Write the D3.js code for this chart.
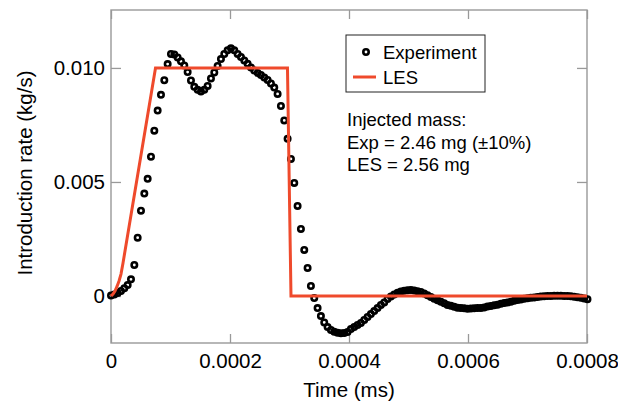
<!DOCTYPE html>
<html>
<head>
<meta charset="utf-8">
<script src="https://cdn.jsdelivr.net/npm/d3@7"></script>
<style>
  html, body { margin: 0; padding: 0; background: #fff; }
  svg { display: block; font-family: "Liberation Sans", Arial, Helvetica, sans-serif; }
</style>
</head>
<body>
<svg id="chart" width="618" height="402"></svg>
<script>
// Measured introduction rate (kg/s), sampled every 5.6e-6 ms from t = 0
const sampleInterval = 0.0000056;
const expRate = [
  0.00002, 0.00007, 0.00013, 0.00022, 0.00034, 0.00048, 0.00073, 0.00136, 0.00256, 0.00374,
  0.00449, 0.00514, 0.00611, 0.00725, 0.00813, 0.00882, 0.00946, 0.01017, 0.01061, 0.01059,
  0.01046, 0.01029, 0.01011, 0.00982, 0.00945, 0.00917, 0.00904, 0.00897, 0.00904, 0.00921,
  0.00954, 0.00980, 0.01009, 0.01039, 0.01061, 0.01077, 0.01086, 0.01077, 0.01061, 0.01048,
  0.01033, 0.01018, 0.01002, 0.00989, 0.00978, 0.00969, 0.00958, 0.00947, 0.00932, 0.00914,
  0.00886, 0.00833, 0.00770, 0.00689, 0.00601, 0.00496, 0.00395, 0.00294, 0.00202, 0.00123,
  0.00044, -0.00009, -0.00053, -0.00088, -0.00116, -0.00136, -0.00149, -0.00157, -0.00161, -0.00163,
  -0.00162, -0.00158, -0.00145, -0.00136, -0.00127, -0.00118, -0.00105, -0.00092, -0.00079, -0.00066,
  -0.00053, -0.00039, -0.00028, -0.00013, -0.00002, 0.00007, 0.00014, 0.00020, 0.00023, 0.00025,
  0.00026, 0.00024, 0.00021, 0.00018, 0.00011, 0.00003, -0.00004, -0.00012, -0.00019, -0.00025,
  -0.00032, -0.00039, -0.00043, -0.00047, -0.00051, -0.00053, -0.00054, -0.00056, -0.00055, -0.00054,
  -0.00053, -0.00052, -0.00050, -0.00046, -0.00044, -0.00041, -0.00038, -0.00034, -0.00031, -0.00028,
  -0.00025, -0.00021, -0.00018, -0.00015, -0.00012, -0.00010, -0.00008, -0.00006, -0.00004, -0.00002,
  -0.00001, 0.00000, 0.00000, 0.00001, 0.00001, 0.00001, 0.00000, 0.00000, -0.00001, -0.00003,
  -0.00005, -0.00008, -0.00011, -0.00014
];

// LES injection profile: ramp-up, plateau, sharp closure
const lesTime = [0, 0.0000034, 0.0000067, 0.0000101, 0.0000135, 0.0000168, 0.0000202, 0.0000748, 0.0002966, 0.0003025, 0.0008];
const lesRate = [0, 0.00009, 0.00022, 0.00042, 0.00066, 0.00096, 0.00145, 0.0100, 0.0100, 0, 0];

// Axis ticks
const xTicks = [0, 0.0002, 0.0004, 0.0006, 0.0008];
const xTickLabels = ["0", "0.0002", "0.0004", "0.0006", "0.0008"];
const yTicks = [0, 0.005, 0.010];
const yTickLabels = ["0", "0.005", "0.010"];

const seriesNames = ["Experiment", "LES"];
const notes = ["Injected mass:", "Exp = 2.46 mg (\u00b110%)", "LES = 2.56 mg"];

const expData = expRate.map((v, i) => ({ t: i * sampleInterval, v }));
const lesData = lesTime.map((t, i) => ({ t, v: lesRate[i] }));

const svg = d3.select("#chart");
const plot = { left: 111, right: 587, top: 10, bottom: 343 };
const red = "#ef4a2c";
const frameColor = "#999";
const markerR = 2.7;
const markerStroke = 2.6;

const x = d3.scaleLinear().domain([0, 0.0008]).range([plot.left, plot.right]);
const y = d3.scaleLinear().domain([-0.00206, 0.01254]).range([plot.bottom, plot.top]);

// Axes (ticks point inward, mirrored on top and right)
function styleAxis(g) {
  g.select(".domain").remove();
  g.selectAll(".tick line").attr("stroke", frameColor).attr("stroke-width", 1.3);
  g.selectAll(".tick text").attr("fill", "#000").attr("font-size", 20.5)
    .attr("font-family", "Liberation Sans, Arial, sans-serif");
}

svg.append("g")
  .attr("transform", `translate(0,${plot.bottom})`)
  .call(d3.axisBottom(x).tickValues(xTicks).tickSize(-9).tickPadding(10)
    .tickFormat((d, i) => xTickLabels[i]))
  .call(styleAxis);

svg.append("g")
  .attr("transform", `translate(0,${plot.top})`)
  .call(d3.axisTop(x).tickValues(xTicks).tickSize(-9).tickFormat(""))
  .call(styleAxis);

svg.append("g")
  .attr("transform", `translate(${plot.left},0)`)
  .call(d3.axisLeft(y).tickValues(yTicks).tickSize(-10).tickPadding(6)
    .tickFormat((d, i) => yTickLabels[i]))
  .call(styleAxis);

svg.append("g")
  .attr("transform", `translate(${plot.right},0)`)
  .call(d3.axisRight(y).tickValues(yTicks).tickSize(-10).tickFormat(""))
  .call(styleAxis);

// Frame
svg.append("rect")
  .attr("x", plot.left).attr("y", plot.top)
  .attr("width", plot.right - plot.left).attr("height", plot.bottom - plot.top)
  .attr("fill", "none").attr("stroke", frameColor).attr("stroke-width", 1.4);

// Axis titles
svg.append("text")
  .attr("x", (plot.left + plot.right) / 2).attr("y", 396.5)
  .attr("text-anchor", "middle").attr("font-size", 20.5)
  .text("Time (ms)");

svg.append("text")
  .attr("transform", "translate(31.5,173) rotate(-90)")
  .attr("text-anchor", "middle").attr("font-size", 20.5)
  .text("Introduction rate (kg/s)");

// Experimental points
svg.append("g")
  .selectAll("circle")
  .data(expData)
  .join("circle")
  .attr("cx", d => x(d.t))
  .attr("cy", d => y(d.v))
  .attr("r", markerR)
  .attr("fill", "none")
  .attr("stroke", "#000")
  .attr("stroke-width", markerStroke);

// LES profile
const line = d3.line().x(d => x(d.t)).y(d => y(d.v));
svg.append("path")
  .datum(lesData)
  .attr("d", line)
  .attr("fill", "none")
  .attr("stroke", red)
  .attr("stroke-width", 3)
  .attr("stroke-linejoin", "miter");

// Legend
const legend = svg.append("g");
legend.append("rect")
  .attr("x", 346).attr("y", 35).attr("width", 139).attr("height", 57)
  .attr("fill", "#fff").attr("stroke", "#222").attr("stroke-width", 1);
legend.append("circle")
  .attr("cx", 366).attr("cy", 52).attr("r", markerR)
  .attr("fill", "none").attr("stroke", "#000").attr("stroke-width", markerStroke);
legend.append("line")
  .attr("x1", 353).attr("x2", 376).attr("y1", 77).attr("y2", 77)
  .attr("stroke", red).attr("stroke-width", 3);
legend.selectAll("text.entry")
  .data(seriesNames)
  .join("text")
  .attr("class", "entry")
  .attr("x", 383)
  .attr("y", (d, i) => 58.5 + i * 25)
  .attr("font-size", 18.5)
  .text(d => d);

// Injected-mass note
svg.append("g")
  .selectAll("text")
  .data(notes)
  .join("text")
  .attr("x", 347)
  .attr("y", (d, i) => 126 + i * 22.5)
  .attr("font-size", 18.5)
  .text(d => d);
</script>
</body>
</html>
